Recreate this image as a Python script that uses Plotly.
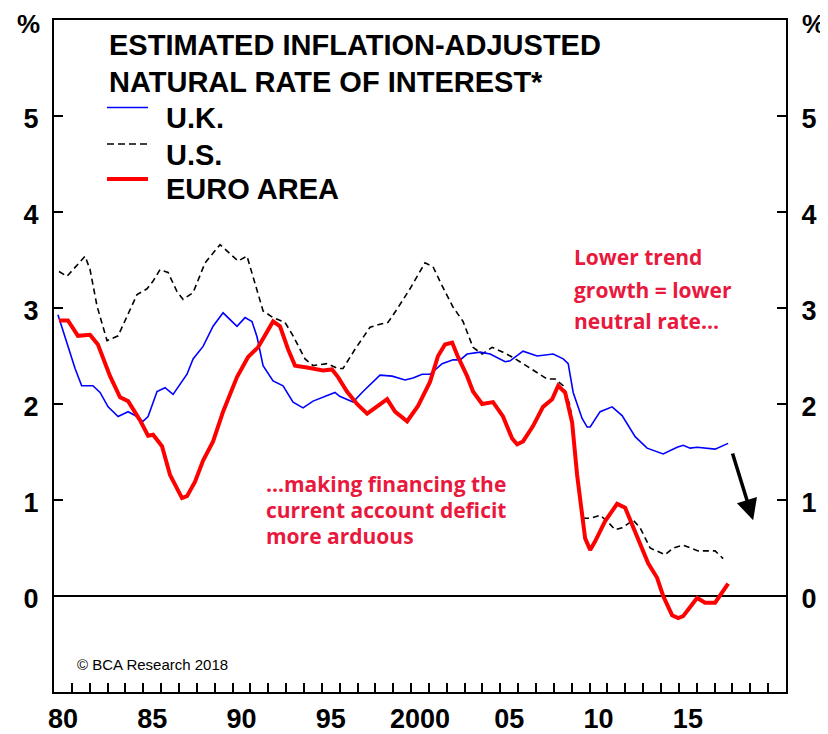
import plotly.graph_objects as go

# ===============================
# DATA
# ===============================
uk_year = [1980.22, 1981.18, 1981.55, 1982.18, 1982.58, 1983.03, 1983.59, 1984.15, 1984.54, 1984.99,
           1985.27, 1985.77, 1986.22, 1986.67, 1987.45, 1987.79, 1988.35, 1988.91, 1989.47, 1990.25,
           1990.70, 1991.09, 1991.37, 1991.71, 1992.27, 1992.83, 1993.39, 1993.95, 1994.51, 1995.29,
           1995.74, 1996.00, 1996.75, 1997.31, 1998.26, 1998.94, 1999.66, 2000.11, 2000.62, 2001.06,
           2001.74, 2002.35, 2002.75, 2003.14, 2003.87, 2004.43, 2005.27, 2005.55, 2006.27, 2007.06,
           2007.96, 2008.52, 2008.80, 2009.08, 2009.58, 2009.86, 2010.03, 2010.59, 2011.26, 2011.82,
           2012.55, 2013.22, 2014.12, 2014.90, 2015.24, 2015.63, 2016.02, 2017.03, 2017.42, 2017.76]
uk_rate = [2.93, 2.37, 2.19, 2.19, 2.12, 1.97, 1.87, 1.92, 1.88, 1.82,
           1.87, 2.13, 2.17, 2.10, 2.31, 2.47, 2.60, 2.81, 2.95, 2.81,
           2.90, 2.86, 2.70, 2.40, 2.24, 2.19, 2.02, 1.96, 2.03, 2.09,
           2.12, 2.08, 2.02, 2.13, 2.30, 2.29, 2.25, 2.27, 2.31, 2.31,
           2.42, 2.46, 2.46, 2.52, 2.54, 2.52, 2.44, 2.45, 2.55, 2.50,
           2.52, 2.47, 2.42, 2.12, 1.85, 1.76, 1.76, 1.92, 1.97, 1.88,
           1.66, 1.54, 1.48, 1.55, 1.57, 1.54, 1.55, 1.53, 1.56, 1.59]

us_year = [1980.28, 1980.73, 1981.74, 1982.02, 1982.41, 1982.97, 1983.59, 1984.15, 1984.65, 1985.21,
           1985.55, 1985.94, 1986.39, 1986.89, 1987.23, 1987.79, 1988.46, 1989.30, 1989.86, 1990.31,
           1990.81, 1991.15, 1991.71, 1992.27, 1992.94, 1993.39, 1994.06, 1994.51, 1995.29, 1995.90,
           1996.19, 1996.86, 1997.70, 1998.26, 1998.71, 1999.22, 1999.94, 2000.78, 2001.23, 2001.74,
           2002.35, 2002.91, 2003.47, 2003.98, 2004.54, 2005.15, 2005.66, 2006.27, 2007.06, 2007.62,
           2008.07, 2008.52, 2008.91, 2009.08, 2009.36, 2009.64, 2010.03, 2010.59, 2010.98, 2011.43,
           2011.82, 2012.44, 2012.83, 2013.39, 2014.23, 2014.68, 2015.24, 2016.08, 2017.03, 2017.48]
us_rate = [3.38, 3.33, 3.54, 3.40, 3.02, 2.66, 2.71, 2.94, 3.14, 3.20,
           3.28, 3.40, 3.37, 3.17, 3.09, 3.16, 3.47, 3.66, 3.56, 3.49,
           3.54, 3.33, 2.97, 2.90, 2.85, 2.71, 2.47, 2.40, 2.42, 2.37,
           2.37, 2.57, 2.80, 2.83, 2.85, 2.99, 3.20, 3.47, 3.43, 3.23,
           3.01, 2.86, 2.59, 2.52, 2.59, 2.54, 2.49, 2.42, 2.33, 2.26,
           2.26, 2.19, 1.98, 1.71, 1.19, 0.81, 0.81, 0.84, 0.78, 0.69,
           0.71, 0.79, 0.71, 0.50, 0.43, 0.50, 0.53, 0.47, 0.47, 0.39]

euro_year = [1980.28, 1980.78, 1981.34, 1982.02, 1982.46, 1983.14, 1983.70, 1984.15, 1984.82, 1985.27,
             1985.55, 1986.05, 1986.50, 1987.17, 1987.45, 1987.90, 1988.35, 1988.91, 1989.47, 1990.25,
             1990.87, 1991.43, 1992.27, 1992.66, 1993.11, 1993.50, 1994.17, 1995.07, 1995.57, 1995.91,
             1996.41, 1996.97, 1997.54, 1998.10, 1998.66, 1999.10, 1999.78, 2000.39, 2001.06, 2001.51,
             2001.90, 2002.30, 2002.63, 2003.14, 2003.47, 2003.98, 2004.59, 2005.15, 2005.66, 2005.94,
             2006.27, 2006.83, 2007.39, 2007.90, 2008.24, 2008.63, 2009.02, 2009.30, 2009.75, 2010.03,
             2010.31, 2010.87, 2011.54, 2011.99, 2012.66, 2013.28, 2013.78, 2014.12, 2014.62, 2014.96,
             2015.24, 2016.02, 2016.47, 2017.03, 2017.76]
euro_rate = [2.87, 2.87, 2.71, 2.72, 2.62, 2.29, 2.07, 2.03, 1.83, 1.67,
             1.68, 1.56, 1.26, 1.02, 1.04, 1.19, 1.41, 1.61, 1.92, 2.28,
             2.49, 2.59, 2.86, 2.81, 2.57, 2.40, 2.38, 2.35, 2.36, 2.28,
             2.13, 2.00, 1.90, 1.98, 2.05, 1.92, 1.82, 1.98, 2.23, 2.50,
             2.62, 2.64, 2.49, 2.29, 2.13, 2.00, 2.02, 1.87, 1.64, 1.58,
             1.61, 1.77, 1.97, 2.05, 2.19, 2.12, 1.81, 1.26, 0.60, 0.48,
             0.57, 0.78, 0.96, 0.92, 0.63, 0.34, 0.19, 0.00, -0.20, -0.23,
             -0.21, -0.02, -0.07, -0.07, 0.13]

x_label_years = [1980, 1985, 1990, 1995, 2000, 2005, 2010, 2015]
x_label_text = ["80", "85", "90", "95", "2000", "05", "10", "15"]
y_tickvals = [0, 1, 2, 3, 4, 5]

# one tick per year, labels only every five years
x_tickvals = list(range(1980, 2021))
x_ticktext = [x_label_text[x_label_years.index(yr)] if yr in x_label_years else "" for yr in x_tickvals]

RED_TXT = "#e8193c"
BOLD = "Liberation Sans, Arial, sans-serif"

# ===============================
# FIGURE
# ===============================
fig = go.Figure()
fig.add_trace(go.Scatter(x=us_year, y=us_rate, mode="lines", name="U.S.",
                         line=dict(color="black", width=1.6, dash="6px,4px")))
fig.add_trace(go.Scatter(x=uk_year, y=uk_rate, mode="lines", name="U.K.",
                         line=dict(color="#0000ff", width=1.6)))
fig.add_trace(go.Scatter(x=euro_year, y=euro_rate, mode="lines", name="EURO AREA",
                         line=dict(color="#ff0000", width=4)))
# invisible copy so the right-hand axis gets drawn
fig.add_trace(go.Scatter(x=uk_year, y=uk_rate, mode="lines", yaxis="y2",
                         line=dict(color="rgba(0,0,0,0)", width=0), hoverinfo="skip"))

axis_font = dict(family=BOLD, size=27, color="black", weight="bold")

# the page body adds an 8px offset, so the figure is 8px smaller and margins shifted
fig.update_layout(
    width=820, height=726,
    margin=dict(l=46, r=42, t=12, b=42, autoexpand=False),
    paper_bgcolor="white", plot_bgcolor="white",
    showlegend=False,
    xaxis=dict(range=[1980, 2021], tickmode="array", tickvals=x_tickvals, ticktext=x_ticktext,
               ticks="inside", ticklen=9, tickwidth=1.5, tickcolor="black",
               showline=True, linecolor="black", linewidth=2, mirror=True,
               showgrid=False, zeroline=False, tickfont=axis_font, automargin=False,
               ticklabelshift=9, ticklabelstandoff=2),
    yaxis=dict(range=[-1, 6], tickmode="array", tickvals=y_tickvals, ticks="inside", ticklen=9, tickwidth=1.5,
               tickcolor="black", showline=True, linecolor="black", linewidth=2,
               showgrid=False, zeroline=True, zerolinecolor="black", zerolinewidth=1.5,
               tickfont=axis_font, ticklabelstandoff=8, ticklabelshift=3, automargin=False),
    yaxis2=dict(range=[-1, 6], tickmode="array", tickvals=y_tickvals, ticks="inside", ticklen=9, tickwidth=1.5,
                tickcolor="black", showline=True, linecolor="black", linewidth=2,
                overlaying="y", side="right", showgrid=False, zeroline=False,
                tickfont=axis_font, ticklabelstandoff=8, ticklabelshift=3, automargin=False),
)

# ===============================
# TITLE / LEGEND / NOTES
# ===============================
title_font = dict(family=BOLD, size=29, color="black", weight="bold")
texts = [
    ("ESTIMATED INFLATION-ADJUSTED", 0.0725, 0.9634),
    ("NATURAL RATE OF INTEREST*", 0.0725, 0.9083),
    ("U.K.", 0.1500, 0.8542),
    ("U.S.", 0.1500, 0.7997),
    ("EURO AREA", 0.1500, 0.7491),
]
for t, xp, yp in texts:
    fig.add_annotation(text=t, x=xp, y=yp, xref="paper", yref="paper",
                       xanchor="left", yanchor="middle", showarrow=False, font=title_font)

legend_lines = [("#0000ff", 1.6, "solid", 0.8698), ("black", 1.6, "7px,4px", 0.8155), ("#ff0000", 4, "solid", 0.7634)]
for col, w, dsh, yp in legend_lines:
    fig.add_shape(type="line", xref="paper", yref="paper", x0=0.0724, x1=0.1284, y0=yp, y1=yp,
                  line=dict(color=col, width=w, dash=dsh))

note_font = dict(family="Open Sans, Noto Sans, sans-serif", size=21, color=RED_TXT, weight="bold")
notes = [
    ("Lower trend", 0.7076, 0.6466),
    ("growth = lower", 0.7076, 0.5975),
    ("neutral rate...", 0.7076, 0.5528),
    ("...making financing the", 0.2869, 0.3095),
    ("current account deficit", 0.2869, 0.2708),
    ("more arduous", 0.2869, 0.2314),
]
for t, xp, yp in notes:
    fig.add_annotation(text=t, x=xp, y=yp, xref="paper", yref="paper",
                       xanchor="left", yanchor="middle", showarrow=False, font=note_font)

fig.add_annotation(text="© BCA Research 2018", x=0.0287, y=0.0402, xref="paper", yref="paper",
                   xanchor="left", yanchor="middle", showarrow=False,
                   font=dict(family=BOLD, size=15, color="black"))

pct_font = dict(family=BOLD, size=26, color="black", weight="bold")
for xp in [-0.0355, 1.037]:
    fig.add_annotation(text="%", x=xp, y=0.994, xref="paper", yref="paper",
                       xanchor="center", yanchor="middle", showarrow=False, font=pct_font)

# downward arrow
fig.add_annotation(x=2019.16, y=0.79, ax=2017.98, ay=1.50, xref="x", yref="y", axref="x", ayref="y",
                   text="", showarrow=True, arrowhead=2, arrowsize=1.2, arrowwidth=3.5, arrowcolor="black")

fig.write_html("out.html")
